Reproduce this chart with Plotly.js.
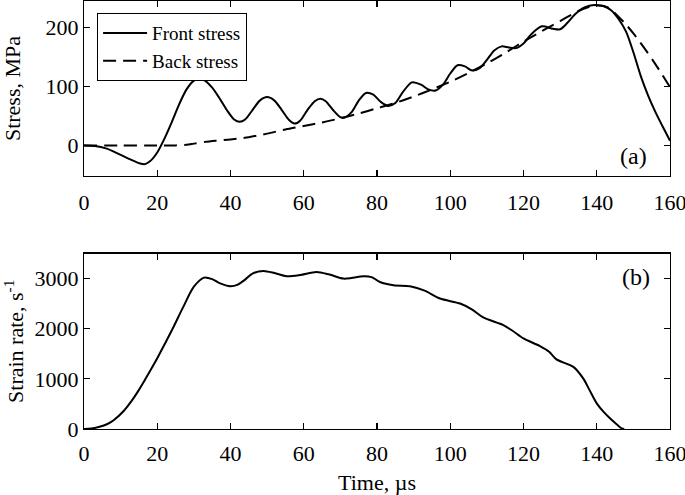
<!DOCTYPE html>
<html>
<head>
<meta charset="utf-8">
<script src="https://cdn.plot.ly/plotly-3.0.1.min.js"></script>
<style>html,body{margin:0;padding:0;background:#fff;}#chart{width:685px;height:495px;}</style>
</head>
<body>
<div id="chart"></div>
<script>
const frontTime = [0,3,6,9,12,15,16.5,18,20,22,24,26,28,30,31.5,33,35,37,39,41,42.5,44,46,48,50,52,54,56,57.5,59,61,63,64.5,66,68,70,71,73,75,77,79,81,83,85,87,89.5,92,94,96,98,100,102,104,106,108,110,112,114,116,118,120,122,125,128,130,132,134,136,138,140,142,144,146,148,150,152,154,156,158,160];
const frontStress = [0,-1,-5,-13,-22,-30,-32,-27,-12,12,40,70,95,110,113,110,98,80,60,44,40,44,60,76,82,76,60,43,37,42,60,75,79,75,60,48,47,56,76,89,86,74,67,72,90,107,103,95,93,103,122,136,134,127,131,145,161,168,166,165,173,188,202,198,197,208,222,232,237,238,236,229,214,193,158,118,85,57,32,8];

const backTime = [0,10,20,25,28,30,33,36,40,45,50,55,60,65,70,75,80,85,90,95,100,105,110,115,120,125,130,135,138,140,143,146,148,150,153,156,160];
const backStress = [0,0,0,0,1,3,6,8,10,14,20,27,33,39,46,54,63,72,83,95,108,123,139,157,176,194,211,228,235,238,234,218,205,190,165,138,99];

const rateTime = [0,2,4,6.4,8,10.9,13,15,16.8,18.5,20,22,24.4,27,30,32.8,35,37,39.9,42,44,46,49,52,55.3,59,63.5,67,70.8,73,76.3,78.5,80.8,84.5,89,93,97.2,102.7,106,109,114.5,117,120,124.5,127,129,133.6,136.3,138,140,142,143.6,145.5,146.8,147.5];
const strainRate = [0,8,40,100,170,365,560,780,1000,1215,1410,1690,2030,2420,2840,3020,2990,2910,2847,2880,2980,3100,3152,3110,3046,3070,3132,3080,3000,3010,3046,3030,2932,2867,2847,2760,2602,2502,2380,2224,2071,1960,1806,1653,1540,1388,1240,1009,780,512,330,213,90,14,0];

const xTicks = [0,20,40,60,80,100,120,140,160];
const stressTicks = [0,100,200];
const rateTicks = [0,1000,2000,3000];

const serif = 'Liberation Serif, Times New Roman, serif';
const tickFont = {family: serif, size: 22, color: '#000'};
const axisCommon = {
  showline: true, linecolor: '#000', linewidth: 1.2, mirror: 'ticks',
  ticks: 'inside', ticklen: 6, tickwidth: 1.2, tickcolor: '#000',
  showgrid: false, zeroline: false, tickfont: tickFont, ticklabeloverflow: 'allow'
};

const data = [
  {x: frontTime, y: frontStress, type: 'scatter', mode: 'lines', name: 'Front stress',
   line: {color: '#000', width: 2, shape: 'spline', smoothing: 0.8}, xaxis: 'x', yaxis: 'y'},
  {x: backTime, y: backStress, type: 'scatter', mode: 'lines', name: 'Back stress',
   line: {color: '#000', width: 2, dash: '13px,7px', shape: 'spline', smoothing: 0.8}, xaxis: 'x', yaxis: 'y'},
  {x: rateTime, y: strainRate, type: 'scatter', mode: 'lines', name: 'Strain rate', showlegend: false,
   line: {color: '#000', width: 2, shape: 'spline', smoothing: 0.8}, xaxis: 'x2', yaxis: 'y2'}
];

const layout = {
  width: 685, height: 495,
  margin: {l: 84, r: 15, t: 1, b: 66},
  paper_bgcolor: '#fff', plot_bgcolor: '#fff',
  font: {family: serif, size: 22, color: '#000'},
  xaxis: Object.assign({}, axisCommon, {range: [0, 160], tickvals: xTicks, anchor: 'y', domain: [0,1], ticklabelstandoff: 6}),
  yaxis: Object.assign({}, axisCommon, {range: [-52, 245], tickvals: stressTicks, domain: [0.591, 1], anchor: 'x',
    title: {text: 'Stress, MPa', font: {family: serif, size: 22}, standoff: 18}}),
  xaxis2: Object.assign({}, axisCommon, {range: [0, 160], tickvals: xTicks, anchor: 'y2', domain: [0,1], ticklabelstandoff: 4,
    title: {text: 'Time, µs', font: {family: serif, size: 22}, standoff: 10}}),
  yaxis2: Object.assign({}, axisCommon, {range: [0, 3500], tickvals: rateTicks, domain: [0, 0.41], anchor: 'x2',
    title: {text: 'Strain rate, s<sup>-1</sup>', font: {family: serif, size: 22}, standoff: 8}}),
  showlegend: true,
  legend: {x: 0.022, y: 0.972, xanchor: 'left', yanchor: 'top', bgcolor: '#fff', bordercolor: '#000', borderwidth: 1.2,
    font: {family: serif, size: 19}, tracegroupgap: 0, itemwidth: 44},
  annotations: [
    {text: '(a)', xref: 'x domain', yref: 'y domain', x: 0.965, y: 0.03, xanchor: 'right', yanchor: 'bottom', showarrow: false,
     font: {family: serif, size: 24}},
    {text: '(b)', xref: 'x2 domain', yref: 'y2 domain', x: 0.97, y: 0.95, xanchor: 'right', yanchor: 'top', showarrow: false,
     font: {family: serif, size: 24}}
  ]
};

Plotly.newPlot('chart', data, layout, {displayModeBar: false, staticPlot: true});
</script>
</body>
</html>
